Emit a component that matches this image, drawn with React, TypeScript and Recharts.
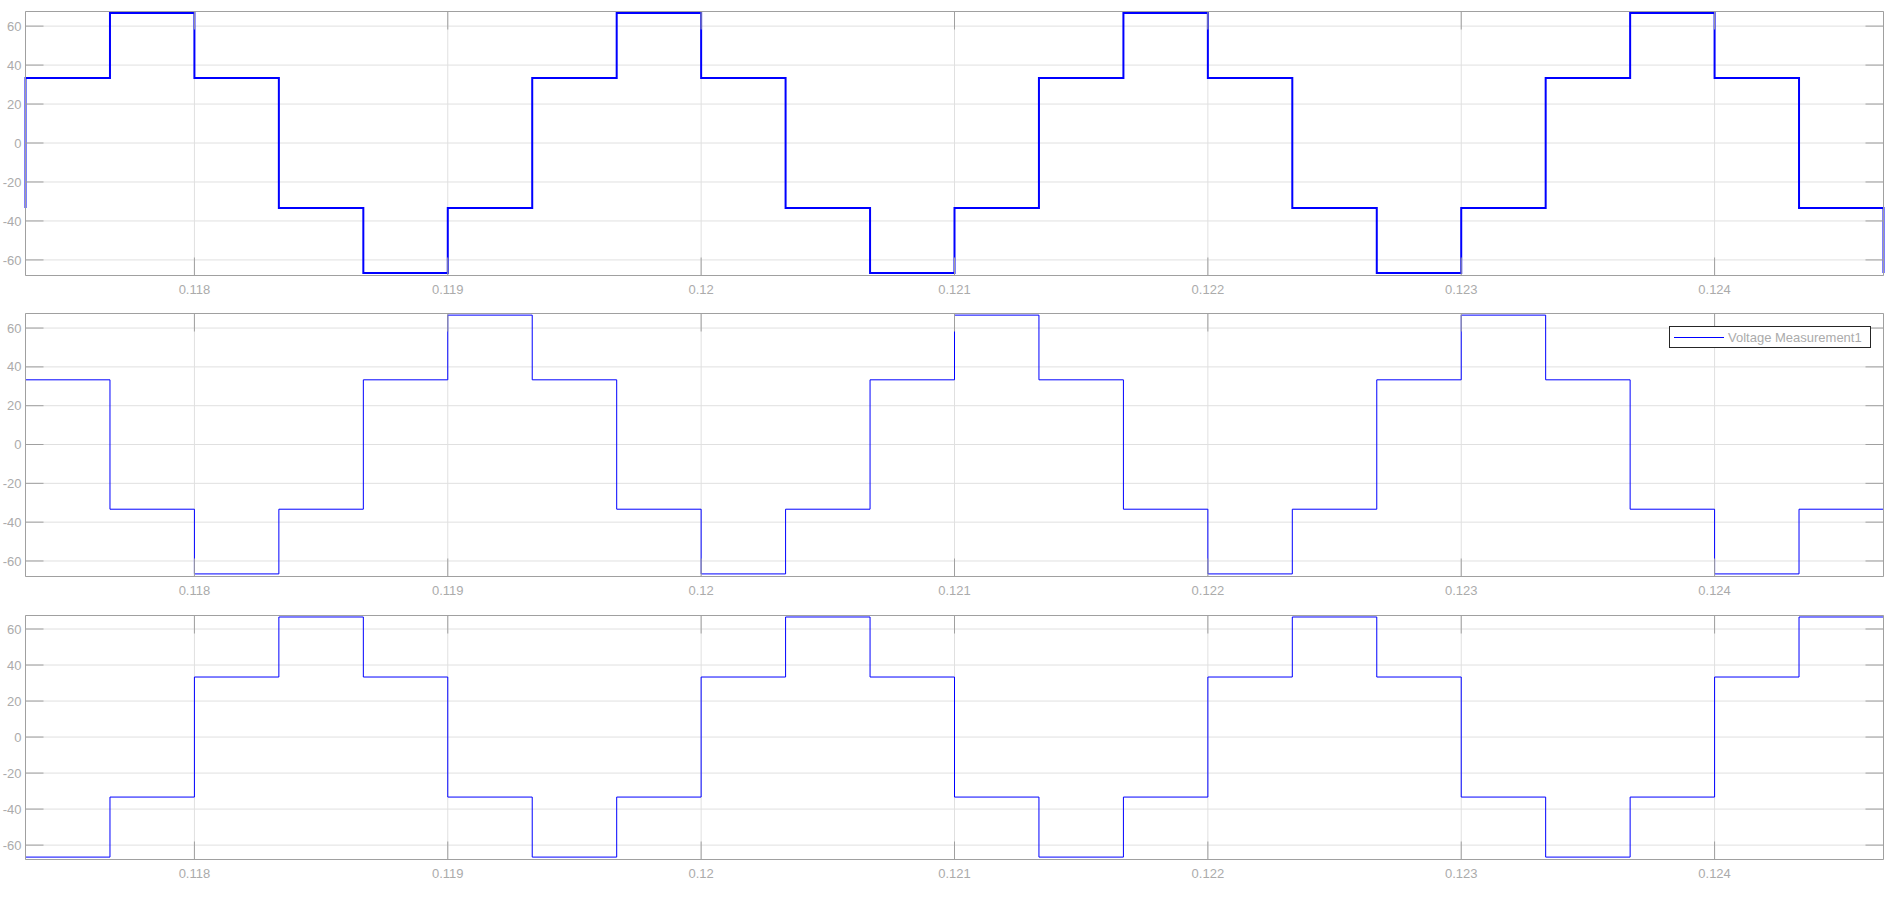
import React from 'react';
import { LineChart, Line, XAxis, YAxis, CartesianGrid, Legend } from 'recharts';

const times = [
  0.1173333, 0.1173333, 0.1176667, 0.118, 0.1183333, 0.1186667, 0.119, 0.1193333, 0.1196667,
  0.12, 0.1203333, 0.1206667, 0.121, 0.1213333, 0.1216667, 0.122, 0.1223333, 0.1226667,
  0.123, 0.1233333, 0.1236667, 0.124, 0.1243333, 0.1246667,
];
const phaseA = [
  -33.33, 33.33, 66.67, 33.33, -33.33, -66.67, -33.33, 33.33, 66.67, 33.33, -33.33, -66.67,
  -33.33, 33.33, 66.67, 33.33, -33.33, -66.67, -33.33, 33.33, 66.67, 33.33, -33.33, -66.67,
];
const phaseB = [
  66.67, 33.33, -33.33, -66.67, -33.33, 33.33, 66.67, 33.33, -33.33, -66.67, -33.33, 33.33,
  66.67, 33.33, -33.33, -66.67, -33.33, 33.33, 66.67, 33.33, -33.33, -66.67, -33.33, 33.33,
];
const phaseC = [
  -33.33, -66.67, -33.33, 33.33, 66.67, 33.33, -33.33, -66.67, -33.33, 33.33, 66.67, 33.33,
  -33.33, -66.67, -33.33, 33.33, 66.67, 33.33, -33.33, -66.67, -33.33, 33.33, 66.67, 33.33,
];
const xTicks = [0.118, 0.119, 0.12, 0.121, 0.122, 0.123, 0.124];
const xLabels = ['0.118', '0.119', '0.12', '0.121', '0.122', '0.123', '0.124'];
const yTicks = [-60, -40, -20, 0, 20, 40, 60];
const yLabels = ['-60', '-40', '-20', '0', '20', '40', '60'];
const seriesName = 'Voltage Measurement1';

const X_DOMAIN: [number, number] = [0.1173333, 0.1246667];
const Y_DOMAIN: [number, number] = [-68, 67.5];

const rows = times.map((t, i) => ({ t, a: phaseA[i], b: phaseB[i], c: phaseC[i] }));

const W = 1902;
const AXIS = '#a0a0a0';
const GRID = '#e0e0e0';
const TEXT = '#ababab';
const BLUE = '#0000ff';
const FONT = '"Liberation Sans", Arial, Helvetica, sans-serif';

const LegendBox = (props: any) => {
  const p = props.payload && props.payload[0];
  return (
    <div
      style={{
        boxSizing: 'border-box',
        width: 202,
        height: 22,
        border: '1px solid #262626',
        background: '#ffffff',
        display: 'flex',
        alignItems: 'center',
        fontFamily: FONT,
      }}
    >
      <svg width={58} height={20} style={{ display: 'block' }}>
        <line x1={4} x2={54} y1={10.5} y2={10.5} stroke={BLUE} strokeWidth={1} />
      </svg>
      <span style={{ fontSize: 13, color: TEXT, whiteSpace: 'nowrap' }}>{p ? p.value : seriesName}</span>
    </div>
  );
};

type PanelProps = {
  dataKey: string;
  top: number;
  height: number;
  margin: { top: number; right: number; bottom: number; left: number };
  xAxisHeight: number;
  strokeWidth: number;
  legend?: boolean;
};

const Panel = ({ dataKey, top, height, margin, xAxisHeight, strokeWidth, legend }: PanelProps) => (
  <div style={{ position: 'absolute', left: 0, top, width: W, height }}>
    <LineChart width={W} height={height} data={rows} margin={margin} style={{ fontFamily: FONT }}>
      <CartesianGrid stroke={GRID} strokeWidth={1} />
      <XAxis
        dataKey="t"
        type="number"
        domain={X_DOMAIN}
        ticks={xTicks}
        interval={0}
        height={xAxisHeight}
        stroke={AXIS}
        tickSize={-18}
        tickMargin={27}
        tick={{ fill: TEXT, fontSize: 13 }}
        tickFormatter={(v: number) => xLabels[xTicks.indexOf(v)]}
      />
      <XAxis
        xAxisId="top"
        orientation="top"
        dataKey="t"
        type="number"
        domain={X_DOMAIN}
        ticks={xTicks}
        interval={0}
        allowDataOverflow
        height={1}
        stroke={AXIS}
        tickSize={-18}
        tick={() => null}
      />
      <YAxis
        type="number"
        domain={Y_DOMAIN}
        ticks={yTicks}
        interval={0}
        width={25}
        stroke={AXIS}
        tickSize={-18}
        tickMargin={22}
        tick={{ fill: TEXT, fontSize: 13 }}
        tickFormatter={(v: number) => yLabels[yTicks.indexOf(v)]}
      />
      <YAxis
        yAxisId="right"
        orientation="right"
        type="number"
        domain={Y_DOMAIN}
        ticks={yTicks}
        interval={0}
        allowDataOverflow
        width={1}
        stroke={AXIS}
        tickSize={-18}
        tick={() => null}
      />
      {legend && (
        <Legend
          layout="horizontal"
          verticalAlign="middle"
          align="center"
          content={<LegendBox />}
          wrapperStyle={{ position: 'absolute', left: 1669, top: 26, width: 202, height: 22 }}
        />
      )}
      <Line
        type="stepAfter"
        dataKey={dataKey}
        name={seriesName}
        stroke={BLUE}
        strokeWidth={strokeWidth}
        dot={false}
        activeDot={false}
        isAnimationActive={false}
      />
    </LineChart>
  </div>
);

export default function App() {
  return (
    <div style={{ position: 'absolute', left: 0, top: 0, width: W, height: 906, background: '#ffffff' }}>
      <Panel
        dataKey="a"
        top={0}
        height={300}
        margin={{ top: 10.5, right: 17.5, bottom: 0.5, left: 0.5 }}
        xAxisHeight={24}
        strokeWidth={2}
      />
      <Panel
        dataKey="b"
        top={300}
        height={300}
        margin={{ top: 12.5, right: 17.5, bottom: 0.5, left: 0.5 }}
        xAxisHeight={23}
        strokeWidth={1}
        legend
      />
      <Panel
        dataKey="c"
        top={600}
        height={300}
        margin={{ top: 14.5, right: 17.5, bottom: 16.5, left: 0.5 }}
        xAxisHeight={24}
        strokeWidth={1}
      />
    </div>
  );
}
